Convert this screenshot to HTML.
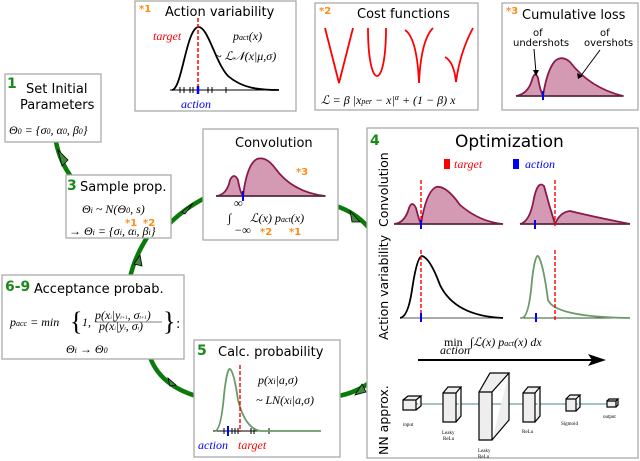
<!DOCTYPE html>
<html><head><meta charset="utf-8"><style>
body{margin:0;background:#fff}
svg{display:block;font-family:"DejaVu Sans","Liberation Sans",sans-serif}
.bx{fill:#fff;stroke:#aaa;stroke-width:1.3}
.t{font-size:13px;fill:#000}
.m{font-family:"Liberation Serif",serif;font-style:italic;font-size:12px}
.g{fill:#1a8a1a;font-weight:bold;font-size:14px}
.o{fill:#ff8c1a;font-weight:bold;font-size:10px}
.arc{fill:none;stroke:#0a7a0a;stroke-width:4.5}
.fillc{fill:#d49ab3;stroke:#8b1a4a;stroke-width:1.8}
.ah{fill:#3a8a3a;stroke:#000;stroke-width:0.8}
</style></head><body>
<svg width="640" height="461" viewBox="0 0 640 461">
<g>
<path class="arc" d="M56,142 Q60,162 72,178"/>
<path class="arc" d="M168,225 Q185,208 205,198"/>
<path class="arc" d="M336,206 Q355,212 369,228"/>
<path class="arc" d="M369,383 Q355,393 338,396"/>
<path class="arc" d="M196,396 Q160,385 150,357"/>
<path class="arc" d="M130,278 Q134,258 148,236"/>
<path class="ah" d="M58,150 L68,160 L62,166 Z"/>
<path class="ah" d="M182,212 L193,203 L185,214 Z"/>
<path class="ah" d="M350,211 L360,222 L352,222 Z"/>
<path class="ah" d="M355,395 L362,384 L366,392 Z"/>
<path class="ah" d="M168,378 L176,385 L170,386 Z"/>
<path class="ah" d="M134,264 L140,255 L142,266 Z"/>
</g>
<!-- Action variability -->
<g>
<rect class="bx" x="135" y="1" width="161" height="110"/>
<text class="o" x="139" y="12">*1</text>
<text class="t" x="165" y="16">Action variability</text>
<line x1="170" y1="90" x2="279" y2="90" stroke="#000"/>
<g stroke="#000"><line x1="180" y1="87" x2="180" y2="93"/><line x1="184" y1="87" x2="184" y2="93"/><line x1="190" y1="87" x2="190" y2="93"/><line x1="193" y1="87" x2="193" y2="93"/><line x1="208" y1="87" x2="208" y2="93"/><line x1="212" y1="87" x2="212" y2="93"/><line x1="226" y1="87" x2="226" y2="93"/></g>
<path d="M172,90 C182,89 186,30 198,27 C208,26 215,62 228,76 C242,88 258,90 279,90" fill="none" stroke="#000" stroke-width="1.8"/>
<line x1="198" y1="18" x2="198" y2="92" stroke="red" stroke-width="1.5" stroke-dasharray="4,2"/>
<line x1="198" y1="86" x2="198" y2="94" stroke="blue" stroke-width="2.5"/>
<text class="m" x="153" y="40" fill="red">target</text>
<text class="m" x="233" y="40">p<tspan font-size="8">act</tspan>(x)</text>
<text class="m" x="215" y="60">~ ℒ𝒩(x|μ,σ)</text>
<text class="m" x="181" y="108" fill="blue">action</text>
</g>
<!-- Cost functions -->
<g>
<rect class="bx" x="315" y="3" width="163" height="107"/>
<text class="o" x="319" y="14">*2</text>
<text class="t" x="357" y="18">Cost functions</text>
<path d="M325,28 L339,83 L353,28" fill="none" stroke="red" stroke-width="1.8"/>
<path d="M368,28 C368,92 386,92 386,28" fill="none" stroke="red" stroke-width="1.8"/>
<path d="M405,30 Q417,38 419,83 Q421,40 433,28" fill="none" stroke="red" stroke-width="1.8"/>
<path d="M445,57 Q454,62 456,82 Q460,52 473,28" fill="none" stroke="red" stroke-width="1.8"/>
<text class="m" x="321" y="104">ℒ = β |x<tspan font-size="8">per</tspan> − x|<tspan font-size="8" dy="-4">α</tspan><tspan dy="4"> + (1 − β) x</tspan></text>
</g>
<!-- Cumulative loss -->
<g>
<rect class="bx" x="502" y="3" width="136" height="107"/>
<text class="o" x="506" y="14">*3</text>
<text class="t" x="522" y="19">Cumulative loss</text>
<text x="533" y="36" font-size="10">of</text><text x="513" y="46" font-size="10">undershots</text>
<text x="600" y="36" font-size="10">of</text><text x="584" y="46" font-size="10">overshots</text>
<path class="fillc" d="M516,96 Q528,94 532,80 Q535,70 538,78 Q540,90 543,96 Q547,70 555,61 Q562,55 570,62 Q590,88 623,96 Z"/>
<line x1="516" y1="96" x2="624" y2="96" stroke="#333"/>
<line x1="543" y1="91" x2="543" y2="100" stroke="blue" stroke-width="2"/>
<line x1="534" y1="49" x2="536" y2="73" stroke="#000"/>
<line x1="600" y1="50" x2="580" y2="77" stroke="#000"/>
<path d="M533,70 L539,70 L536,76 Z M577,73 L583,76 L578,79 Z" fill="#000"/>
</g>
<!-- Set initial -->
<g>
<rect class="bx" x="5" y="74" width="96" height="68"/>
<text class="g" x="7" y="88">1</text>
<text class="t" x="26" y="93">Set Initial</text>
<text class="t" x="20" y="109">Parameters</text>
<text class="m" x="9" y="134">Θ<tspan font-size="8">0</tspan> = {σ<tspan font-size="8">0</tspan>, α<tspan font-size="8">0</tspan>, β<tspan font-size="8">0</tspan>}</text>
</g>
<!-- Sample prop -->
<g>
<rect class="bx" x="66" y="175" width="105" height="63"/>
<text class="g" x="67" y="190">3</text>
<text class="t" x="80" y="191">Sample prop.</text>
<text class="m" x="82" y="213">Θ<tspan font-size="8">i</tspan> ~ N(Θ<tspan font-size="8">0</tspan>, s)</text>
<text class="m" x="69" y="235">→ Θ<tspan font-size="8">i</tspan> = {σ<tspan font-size="8">i</tspan>, α<tspan font-size="8">i</tspan>, β<tspan font-size="8">i</tspan>}</text>
<text class="o" x="125" y="226">*1</text><text class="o" x="143" y="226">*2</text>
</g>
<!-- Convolution -->
<g>
<rect class="bx" x="203" y="129" width="135" height="111"/>
<text class="t" x="235" y="147">Convolution</text>
<path class="fillc" d="M216,196 Q227,195 230,180 Q234,172 238,180 Q240,192 243,196 Q247,164 257,159 Q266,156 275,168 Q292,192 325,196 Z"/>
<line x1="216" y1="196" x2="326" y2="196" stroke="#333"/>
<line x1="243" y1="191" x2="243" y2="201" stroke="blue" stroke-width="2"/>
<text class="o" x="296" y="175">*3</text>
<text class="m" x="228" y="222" font-size="16">∫</text>
<text class="m" x="234" y="207" font-size="8">∞</text><text class="m" x="234" y="234" font-size="8">−∞</text>
<text class="m" x="250" y="222">ℒ(x) p<tspan font-size="8">act</tspan>(x)</text>
<text class="o" x="260" y="235">*2</text><text class="o" x="289" y="235">*1</text>
</g>
<!-- Optimization -->
<g>
<rect class="bx" x="367" y="128" width="271" height="330"/>
<text class="g" x="370" y="145">4</text>
<text x="455" y="147" font-size="17">Optimization</text>
<rect x="444" y="159" width="6" height="10" fill="red"/><text class="m" x="454" y="168" fill="red">target</text>
<rect x="513" y="159" width="6" height="10" fill="blue"/><text class="m" x="525" y="168" fill="blue">action</text>
<text transform="translate(388,227) rotate(-90)" font-size="12.5">Convolution</text>
<text transform="translate(388,340) rotate(-90)" font-size="12.5">Action variability</text>
<text transform="translate(388,455) rotate(-90)" font-size="12.5">NN approx.</text>
<path class="fillc" d="M394,224 Q405,223 409,208 Q412,200 416,208 Q419,220 421,224 Q426,192 436,187 Q446,185 460,205 Q480,222 503,224 Z"/>
<line x1="394" y1="224" x2="503" y2="224" stroke="#333"/>
<line x1="421" y1="180" x2="421" y2="226" stroke="red" stroke-dasharray="4,2" stroke-width="1.4"/>
<line x1="421" y1="220" x2="421" y2="229" stroke="blue" stroke-width="2"/>
<path class="fillc" d="M520,224 Q530,222 534,198 Q538,180 544,186 Q549,205 555,224 Q560,212 570,211 Q590,216 630,224 Z"/>
<line x1="520" y1="224" x2="630" y2="224" stroke="#333"/>
<line x1="555" y1="180" x2="555" y2="226" stroke="red" stroke-dasharray="4,2" stroke-width="1.4"/>
<line x1="535" y1="220" x2="535" y2="229" stroke="blue" stroke-width="2"/>
<line x1="400" y1="318" x2="503" y2="318" stroke="#555"/>
<path d="M400,318 Q408,317 412,290 Q417,256 422,256 Q430,258 440,285 Q455,316 503,318" fill="none" stroke="#000" stroke-width="1.8"/>
<line x1="421" y1="250" x2="421" y2="320" stroke="red" stroke-dasharray="4,2" stroke-width="1.4"/>
<line x1="421" y1="313" x2="421" y2="322" stroke="blue" stroke-width="2"/>
<line x1="520" y1="318" x2="630" y2="318" stroke="#2a5a2a"/>
<path d="M522,318 Q529,317 532,280 Q535,255 538,256 Q543,262 548,300 Q555,317 630,318" fill="none" stroke="#6a9a6a" stroke-width="1.8"/>
<line x1="555" y1="250" x2="555" y2="320" stroke="red" stroke-dasharray="4,2" stroke-width="1.4"/>
<line x1="536" y1="313" x2="536" y2="322" stroke="blue" stroke-width="2"/>
<text x="444" y="346" font-size="12" font-family="Liberation Serif,serif">min</text>
<text class="m" x="470" y="346">∫ℒ(x) p<tspan font-size="8">act</tspan>(x) dx</text>
<text class="m" x="440" y="354" font-size="8">action</text>
<line x1="418" y1="360" x2="596" y2="360" stroke="#000" stroke-width="2"/>
<path d="M588,354 L606,360 L588,366 L592,360 Z" fill="#000"/>
<line x1="408" y1="404" x2="614" y2="404" stroke="#4a8a8a"/>
<g fill="#eee" stroke="#000" stroke-width="1.2">
<path d="M403,400 L416,400 L416,410 L403,410 Z M403,400 L408,396 L421,396 L416,400 M421,396 L421,406 L416,410" />
<path d="M443,393 L456,393 L456,422 L443,422 Z M443,393 L448,387 L461,387 L456,393 M461,387 L461,416 L456,422"/>
<path d="M479,392 L492,392 L492,440 L479,440 Z M479,392 L490,373 L509,373 L492,392 M509,373 L509,420 L492,440"/>
<path d="M523,393 L535,393 L535,422 L523,422 Z M523,393 L528,387 L540,387 L535,393 M540,387 L540,416 L535,422"/>
<path d="M566,399 L576,399 L576,411 L566,411 Z M566,399 L570,395 L580,395 L576,399 M580,395 L580,407 L576,411"/>
<path d="M607,401 L616,401 L616,407 L607,407 Z M607,401 L609,399 L618,399 L616,401 M618,399 L618,405 L616,407"/>
</g>
<g font-size="5" font-family="Liberation Serif,serif"><text x="403" y="426">input</text><text x="442" y="434">Leaky</text><text x="443" y="440">ReLu</text><text x="478" y="452">Leaky</text><text x="478" y="458">ReLu</text><text x="522" y="433">ReLu</text><text x="561" y="425">Sigmoid</text><text x="603" y="418">output</text></g>
</g>
<!-- Acceptance -->
<g>
<rect class="bx" x="2" y="275" width="182" height="84"/>
<text class="g" x="5" y="291">6-9</text>
<text class="t" x="34" y="293">Acceptance probab.</text>
<text class="m" x="10" y="326">p<tspan font-size="8">acc</tspan> = min</text>
<text x="70" y="330" font-size="26" font-family="Liberation Serif,serif">{</text>
<text class="m" x="82" y="326">1,</text>
<text class="m" x="95" y="319" font-size="7">p(x<tspan font-size="5">i</tspan>|y<tspan font-size="5">t+1</tspan>, σ<tspan font-size="5">t+1</tspan>)</text>
<line x1="95" y1="322" x2="162" y2="322" stroke="#000" stroke-width="0.6"/>
<text class="m" x="99" y="330" font-size="7">p(x<tspan font-size="5">i</tspan>|y<tspan font-size="5">t</tspan>, σ<tspan font-size="5">t</tspan>)</text>
<text x="163" y="330" font-size="26" font-family="Liberation Serif,serif">}</text>
<text x="176" y="328" font-size="13">:</text>
<text class="m" x="66" y="353">Θ<tspan font-size="8">i</tspan> → Θ<tspan font-size="8">0</tspan></text>
</g>
<!-- Calc probability -->
<g>
<rect class="bx" x="194" y="340" width="146" height="117"/>
<text class="g" x="197" y="355">5</text>
<text class="t" x="218" y="356">Calc. probability</text>
<line x1="213" y1="431" x2="321" y2="431" stroke="#000"/>
<g stroke="#000"><line x1="224" y1="428" x2="224" y2="434"/><line x1="232" y1="428" x2="232" y2="434"/><line x1="235" y1="428" x2="235" y2="434"/><line x1="238" y1="428" x2="238" y2="434"/><line x1="251" y1="428" x2="251" y2="434"/><line x1="254" y1="428" x2="254" y2="434"/><line x1="269" y1="428" x2="269" y2="434"/></g>
<path d="M215,431 Q221,430 224,395 Q227,368 230,369 Q234,372 238,400 Q245,428 260,431 L321,431" fill="none" stroke="#6a9a6a" stroke-width="1.8"/>
<line x1="240" y1="365" x2="240" y2="432" stroke="red" stroke-dasharray="4,2" stroke-width="1.4"/>
<line x1="228" y1="426" x2="228" y2="436" stroke="blue" stroke-width="2"/>
<text class="m" x="258" y="384">p(x<tspan font-size="8">i</tspan>|a,σ)</text>
<text class="m" x="256" y="404">~ LN(x<tspan font-size="8">i</tspan>|a,σ)</text>
<text class="m" x="198" y="449" fill="blue">action</text>
<text class="m" x="238" y="449" fill="red">target</text>
</g>
</svg>
</body></html>
